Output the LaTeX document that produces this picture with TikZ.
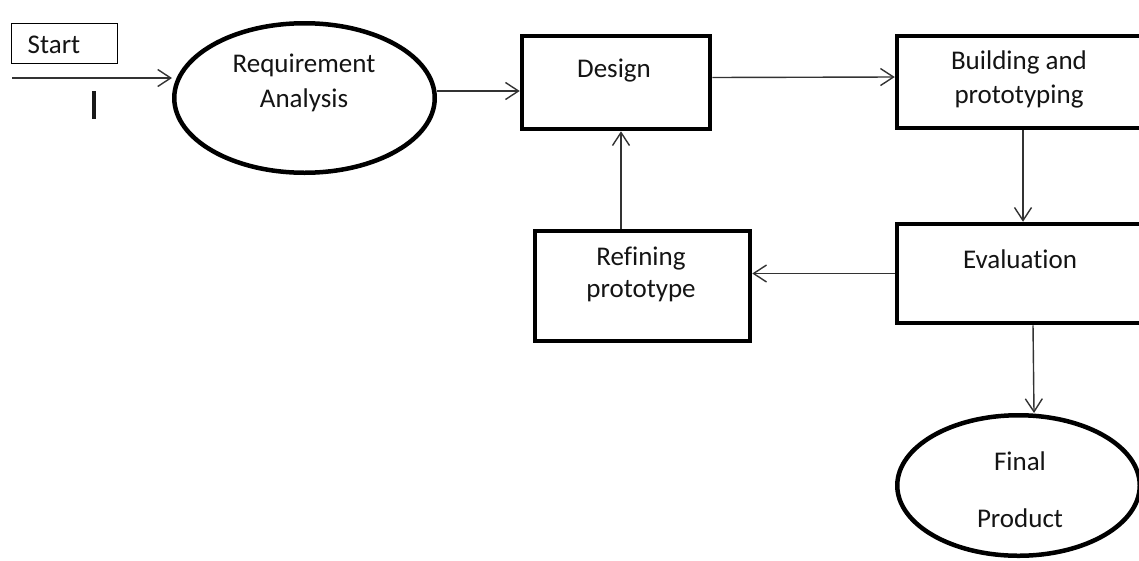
\documentclass[tikz,border=0pt]{standalone}
\usepackage{fontspec}
\setmainfont[Ligatures={NoCommon}]{Carlito}
\usetikzlibrary{arrows.meta,shapes.geometric}
\begin{document}
\begin{tikzpicture}[x=1pt,y=-1pt,
  every node/.style={inner sep=0pt},
  thickbox/.style={draw=black,line width=4.5pt,rectangle},
  thickoval/.style={draw=black,line width=4.5pt,ellipse},
  thinbox/.style={draw=black,line width=1.3pt,rectangle},
  lbl/.style={anchor=base,font=\fontsize{27}{31}\selectfont,text=black!92},
  arr/.style={draw=black!80,line width=1.4pt,-{Straight Barb[length=13pt,width=17pt]}}]
\useasboundingbox[fill=white] (0,0) rectangle (1139,560);

% shapes
\node[thinbox,minimum width=105.7pt,minimum height=39.7pt] (start) at (64.5,43.5) {};
\node[thickoval,minimum width=260.5pt,minimum height=149.5pt] (req) at (304.5,98) {};
\node[thickbox,minimum width=188pt,minimum height=93pt] (design) at (616,82.5) {};
\node[thickbox,minimum width=246pt,minimum height=92pt] (build) at (1020,82) {};
\node[thickbox,minimum width=246pt,minimum height=99pt] (eval) at (1020,273.5) {};
\node[thickbox,minimum width=215pt,minimum height=110pt] (refine) at (642.5,286) {};
\node[thickoval,minimum width=242.5pt,minimum height=140.5pt] (final) at (1018.5,485.5) {};

% labels
\node[lbl] (startT) at (54,53) {Start};
\node[lbl] (reqT1) at (304,72) {Requirement};
\node[lbl] (reqT2) at (304,107) {Analysis};
\node[lbl] (designT) at (614,77) {Design};
\node[lbl] (buildT1) at (1019,69) {Building and};
\node[lbl] (buildT2) at (1019,103) {prototyping};
\node[lbl] (evalT) at (1020,268) {Evaluation};
\node[lbl] (refineT1) at (641,265) {Refining};
\node[lbl] (refineT2) at (641,297) {prototype};
\node[lbl] (finalT1) at (1020,470) {Final};
\node[lbl] (finalT2) at (1020,527) {Product};

% cursor mark under the entry line
\draw[line width=3.5pt,black!90] (94,91) -- (94,119);

% connectors
\coordinate (entry) at (12,78);
\draw[arr] (entry) -- (entry -| req.west);
\draw[arr] ([yshift=7pt]req.east) -- ([yshift=7pt]req.east -| design.west);
\draw[arr] ([yshift=5pt]design.east) -- ([yshift=5pt]build.west);
\draw[arr] ([xshift=3pt]build.south) -- ([xshift=3pt]eval.north);
\draw[arr] (eval.west) -- (eval.west -| refine.east);
\draw[arr] ([xshift=-21.5pt]refine.north) -- ([xshift=-21.5pt]refine.north |- design.south);
\draw[arr] ([xshift=13pt]eval.south) -- ([xshift=15.5pt]final.north);
\end{tikzpicture}
\end{document}
